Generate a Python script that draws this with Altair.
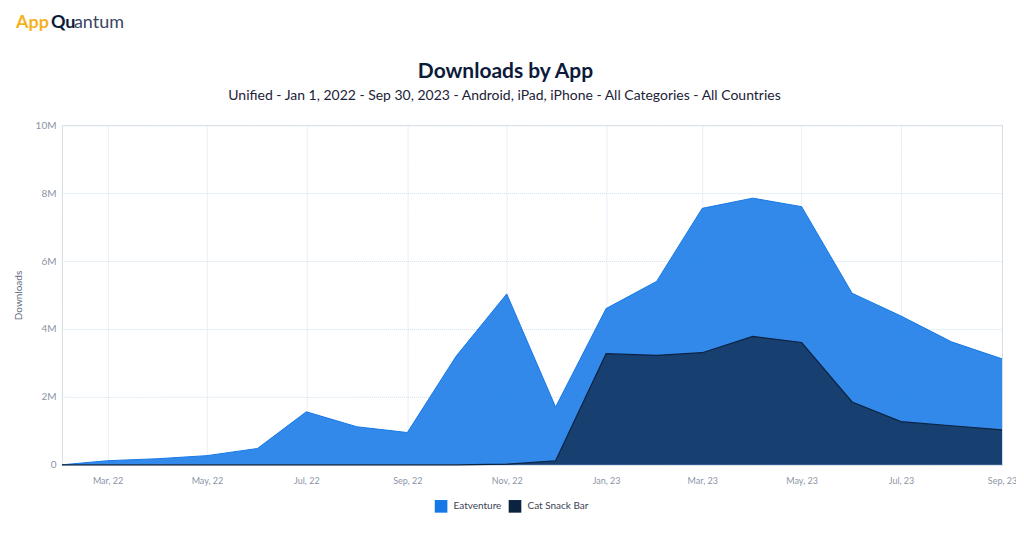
import altair as alt
import pandas as pd

months = ["2022/02/01", "2022/03/01", "2022/04/01", "2022/05/01", "2022/06/01",
          "2022/07/01", "2022/08/01", "2022/09/01", "2022/10/01", "2022/11/01",
          "2022/12/01", "2023/01/01", "2023/02/01", "2023/03/01", "2023/04/01",
          "2023/05/01", "2023/06/01", "2023/07/01", "2023/08/01", "2023/09/01"]
eatventure = [0.0, 0.12, 0.18, 0.27, 0.48, 1.56, 1.12, 0.95, 3.2, 5.03,
              1.7, 4.6, 5.4, 7.55, 7.85, 7.6, 5.05, 4.38, 3.62, 3.12]
cat_snack_bar = [0.0, 0.0, 0.0, 0.0, 0.0, 0.0, 0.0, 0.0, 0.0, 0.02,
                 0.12, 3.27, 3.22, 3.3, 3.78, 3.6, 1.85, 1.27, 1.15, 1.03]
apps = ["Eatventure", "Cat Snack Bar"]
app_colors = ["#1478e6", "#0c2340"]
y_ticks = [0, 2e6, 4e6, 6e6, 8e6, 10e6]
x_ticks = [(2022, 3), (2022, 5), (2022, 7), (2022, 9), (2022, 11),
           (2023, 1), (2023, 3), (2023, 5), (2023, 7), (2023, 9)]
title_text = "Downloads by App"
subtitle_text = "Unified - Jan 1, 2022 - Sep 30, 2023 - Android, iPad, iPhone - All Categories - All Countries"

rows = []
for m, e, c in zip(months, eatventure, cat_snack_bar):
    rows.append({"month": m, "app": "Eatventure", "downloads": e * 1e6})
    rows.append({"month": m, "app": "Cat Snack Bar", "downloads": c * 1e6})
df = pd.DataFrame(rows)

FONT = "Lato"
GRID = "#cfe0ef"

x_enc = alt.X("month:T",
              scale=alt.Scale(domain=[alt.DateTime(year=2022, month=2, date=1),
                                      alt.DateTime(year=2023, month=9, date=1)]),
              axis=alt.Axis(title=None, format="%b, %y",
                            values=[alt.DateTime(year=y, month=m, date=1) for y, m in x_ticks],
                            grid=True, gridColor=GRID, gridDash=[1, 1], gridWidth=1,
                            domain=False, ticks=False, labelPadding=12,
                            labelFlush=False, labelOverlap=False,
                            labelFont=FONT, labelFontSize=9, labelColor="#8a94a6"))
y_enc = alt.Y("downloads:Q",
              scale=alt.Scale(domain=[0, 10e6], nice=False),
              axis=alt.Axis(title="Downloads", values=y_ticks,
                            labelExpr="datum.value == 0 ? '0' : (datum.value / 1000000) + 'M'",
                            grid=True, gridColor=GRID, gridDash=[1, 1], gridWidth=1,
                            domain=True, domainColor=GRID, domainDash=[1, 1],
                            ticks=False, labelPadding=6,
                            labelFont=FONT, labelFontSize=10, labelColor="#8a94a6",
                            titleFont=FONT, titleFontSize=10, titleFontWeight="normal",
                            titleColor="#5f6b80", titlePadding=12))
color_enc = alt.Color("app:N",
                      scale=alt.Scale(domain=apps, range=app_colors),
                      legend=alt.Legend(title=None, orient="none", direction="horizontal",
                                        legendX=373, legendY=375,
                                        symbolType="square", symbolSize=160,
                                        symbolOpacity=1, symbolStrokeWidth=0,
                                        labelFont=FONT, labelFontSize=10,
                                        labelColor="#3a4256", labelOffset=6,
                                        columnPadding=7))

base = alt.Chart(df)
eat = base.transform_filter(alt.datum.app == "Eatventure").mark_area(
    opacity=0.87,
    line=alt.OverlayMarkDef(color="#1a6fd0", strokeWidth=1, opacity=1),
).encode(x=x_enc, y=y_enc, color=color_enc)
cat = base.transform_filter(alt.datum.app == "Cat Snack Bar").mark_area(
    opacity=0.72,
    line=alt.OverlayMarkDef(color="#0b1f3a", strokeWidth=1.2, opacity=1),
).encode(x=x_enc, y=y_enc, color=color_enc)


def label(text, x, y, size, weight, color, align="left"):
    return alt.Chart(pd.DataFrame({"t": [text]})).mark_text(
        font=FONT, fontSize=size, fontWeight=weight, color=color,
        align=align, baseline="alphabetic"
    ).encode(text="t:N", x=alt.value(x), y=alt.value(y))


logo_app = label("App", -46, -97, 18, "bold", "#f5b21f")
logo_qu = label("Qu", -11, -97, 18, "bold", "#0d1b3a")
logo_rest = label("antum", 12, -97, 18, "normal", "#3b4663")
title = label(title_text, 444, -47, 21, "bold", "#0d1b3a", align="center")
subtitle = label(subtitle_text, 443, -25, 14, "normal", "#1b2238", align="center")

chart = alt.layer(eat, cat, logo_app, logo_qu, logo_rest, title, subtitle).properties(
    width=941, height=340,
    autosize=alt.AutoSizeParams(type="none"),
    padding={"left": 54, "top": 117, "right": 14, "bottom": 60},
).configure_view(stroke=None).configure(background="white")

chart.save("out.html", embed_options={"renderer": "svg", "actions": False})
